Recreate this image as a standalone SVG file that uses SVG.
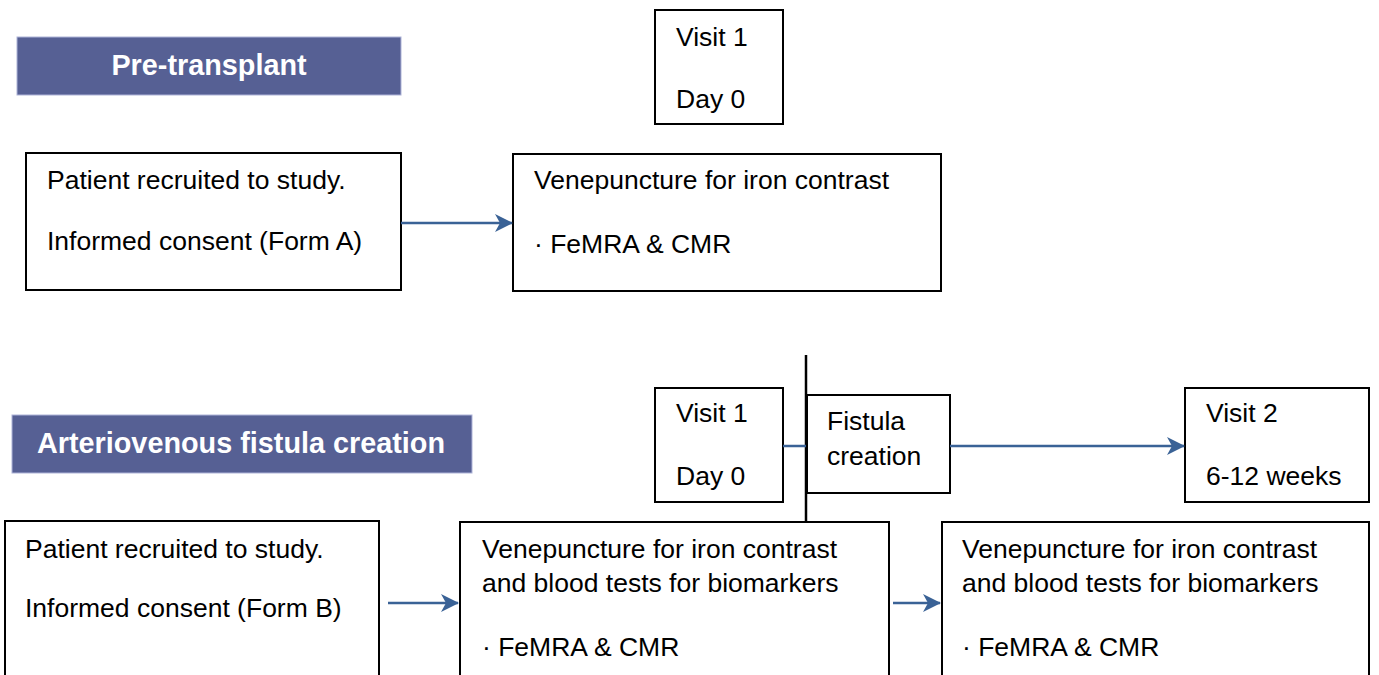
<svg xmlns="http://www.w3.org/2000/svg" width="1379" height="675" viewBox="0 0 1379 675">
<style>
.box{fill:#fff;stroke:#000;stroke-width:2}
.banner{fill:#566094;stroke:#aeb3d8;stroke-width:1}
.t{font-family:"Liberation Sans",Arial,sans-serif;font-size:26.5px;fill:#000}
.bt{font-family:"Liberation Sans",Arial,sans-serif;font-size:28.8px;font-weight:bold;fill:#fff;text-anchor:middle}
.c{stroke:#3a6296;stroke-width:2.5;fill:none}
</style>
<defs>
<marker id="ah" markerWidth="18" markerHeight="18" refX="17" refY="9" orient="auto" markerUnits="userSpaceOnUse" viewBox="0 0 18 18">
<path d="M0,0 L18,9 L0,18 L5,9 Z" fill="#3a6296"/>
</marker>
</defs>
<rect width="1379" height="675" fill="#fff"/>
<g id="banner-pre">
<rect class="banner" x="17" y="37" width="384" height="58"/>
<text class="bt" x="209" y="75">Pre-transplant</text>
</g>
<g id="visit1-top">
<rect class="box" x="655" y="10" width="128" height="114"/>
<text class="t" x="676" y="46">Visit 1</text>
<text class="t" x="676" y="108">Day 0</text>
</g>
<g id="patient-a">
<rect class="box" x="26" y="153" width="375" height="137"/>
<text class="t" x="47" y="189">Patient recruited to study.</text>
<text class="t" x="47" y="250">Informed consent (Form A)</text>
</g>
<g id="vene-top">
<rect class="box" x="513" y="154" width="428" height="137"/>
<text class="t" x="534" y="189">Venepuncture for iron contrast</text>
<text class="t" x="534" y="253">· FeMRA &amp; CMR</text>
</g>
<g id="banner-av">
<rect class="banner" x="12" y="415" width="460" height="58"/>
<text class="bt" x="241" y="453">Arteriovenous fistula creation</text>
</g>
<g id="patient-b">
<rect class="box" x="5" y="521" width="374" height="160"/>
<text class="t" x="25" y="558">Patient recruited to study.</text>
<text class="t" x="25" y="617">Informed consent (Form B)</text>
</g>
<g id="vene-b1">
<rect class="box" x="460" y="522" width="429" height="160"/>
<text class="t" x="482" y="558">Venepuncture for iron contrast</text>
<text class="t" x="482" y="592">and blood tests for biomarkers</text>
<text class="t" x="482" y="656">· FeMRA &amp; CMR</text>
</g>
<g id="vene-b2">
<rect class="box" x="942" y="522" width="427" height="160"/>
<text class="t" x="962" y="558">Venepuncture for iron contrast</text>
<text class="t" x="962" y="592">and blood tests for biomarkers</text>
<text class="t" x="962" y="656">· FeMRA &amp; CMR</text>
</g>
<g id="visit1-bottom">
<rect class="box" x="655" y="388" width="128" height="114"/>
<text class="t" x="676" y="422">Visit 1</text>
<text class="t" x="676" y="485">Day 0</text>
</g>
<g id="fistula">
<rect class="box" x="807" y="395" width="143" height="98"/>
<text class="t" x="827" y="430">Fistula</text>
<text class="t" x="827" y="465">creation</text>
</g>
<g id="visit2">
<rect class="box" x="1185" y="388" width="184" height="114"/>
<text class="t" x="1206" y="422">Visit 2</text>
<text class="t" x="1206" y="485">6-12 weeks</text>
</g>
<g id="connectors">
<line x1="806" y1="355" x2="806" y2="521" stroke="#000" stroke-width="2.5"/>
<line class="c" x1="401" y1="223" x2="512" y2="223" marker-end="url(#ah)"/>
<line class="c" x1="388" y1="603" x2="458" y2="603" marker-end="url(#ah)"/>
<line class="c" x1="893" y1="603" x2="940" y2="603" marker-end="url(#ah)"/>
<line class="c" x1="783" y1="446" x2="806" y2="446"/>
<line class="c" x1="950" y1="446" x2="1184" y2="446" marker-end="url(#ah)"/>
</g>
</svg>
